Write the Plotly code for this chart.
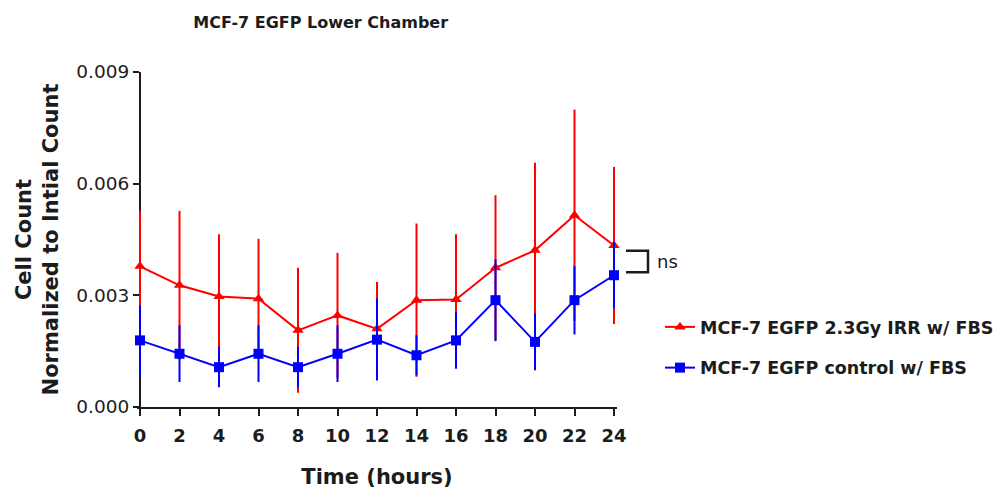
import plotly.graph_objects as go

times = [0, 2, 4, 6, 8, 10, 12, 14, 16, 18, 20, 22, 24]
irr_mean = [0.00378, 0.00327, 0.00297, 0.00291, 0.00206, 0.00246, 0.00210,
            0.00287, 0.00289, 0.00374, 0.00421, 0.00515, 0.00434]
irr_err = [0.00149, 0.00200, 0.00167, 0.00161, 0.00168, 0.00168, 0.00126,
           0.00206, 0.00175, 0.00195, 0.00235, 0.00284, 0.00211]
ctrl_mean = [0.00179, 0.00143, 0.00107, 0.00143, 0.00107, 0.00143, 0.00181,
             0.00139, 0.00179, 0.00287, 0.00175, 0.00287, 0.00354]
ctrl_err = [0.00094, 0.00076, 0.00054, 0.00076, 0.00054, 0.00076, 0.00110,
            0.00054, 0.00076, 0.00110, 0.00076, 0.00092, 0.00089]
y_ticks = [0.0, 0.003, 0.006, 0.009]
x_ticks = times
series_names = ["MCF-7 EGFP 2.3Gy IRR w/ FBS", "MCF-7 EGFP control w/ FBS"]
bracket_y = [0.00420, 0.00362]

FONT = "DejaVu Sans"
INK = "#1c1c1c"

# layout geometry
W, H = 996, 493
ML, MR, MT, MB = 137, 379, 72, 86
PAD = 0.152                      # small x padding so end error bars are not clipped
PW = W - ML - MR
x_range = [times[0] - PAD, times[-1] + PAD]
ppu = PW / (x_range[1] - x_range[0])


def paper_x(px):
    return (px - ML) / PW


fig = go.Figure()
fig.add_trace(go.Scatter(
    x=times, y=irr_mean, name=series_names[0], mode="lines+markers",
    line=dict(color="#ff0000", width=2),
    marker=dict(symbol="triangle-up", size=10, color="#ff0000"),
    error_y=dict(type="data", array=irr_err, visible=True, color="#ff0000",
                 thickness=2, width=0),
    cliponaxis=False, legendgroup="a",
))
fig.add_trace(go.Scatter(
    x=times, y=ctrl_mean, name=series_names[1], mode="lines+markers",
    line=dict(color="#0000ff", width=2),
    marker=dict(symbol="square", size=10, color="#0000ff"),
    error_y=dict(type="data", array=ctrl_err, visible=True, color="#0000ff",
                 thickness=2, width=0),
    cliponaxis=False, legendgroup="b",
))

# ns bracket
bx0, bx1 = paper_x(626), paper_x(648)
fig.add_shape(type="path", xref="paper", yref="y",
              path=f"M {bx0},{bracket_y[0]} L {bx1},{bracket_y[0]} L {bx1},{bracket_y[1]} L {bx0},{bracket_y[1]}",
              line=dict(color=INK, width=2.5))
fig.add_annotation(xref="paper", yref="y", x=paper_x(655), y=sum(bracket_y) / 2,
                   text="ns", showarrow=False, xanchor="left", yanchor="middle",
                   font=dict(family=FONT, size=18, color=INK))

fig.update_layout(
    width=W, height=H,
    margin=dict(l=ML, r=MR, t=MT, b=MB, autoexpand=False),
    paper_bgcolor="white", plot_bgcolor="white",
    title=dict(text="<b>MCF-7 EGFP Lower Chamber</b>", xref="container", yref="container",
               x=0.322, y=1 - 22 / H, xanchor="center", yanchor="middle",
               font=dict(family=FONT, size=16, color=INK)),
    showlegend=True,
    legend=dict(xref="container", yref="container", x=660 / W, y=1 - 347.5 / H,
                xanchor="left", yanchor="middle",
                font=dict(family=FONT, size=17.5, color=INK, weight="bold"),
                tracegroupgap=15, bgcolor="rgba(0,0,0,0)"),
    font=dict(family=FONT, color=INK),
)
fig.update_xaxes(
    range=x_range, tickvals=x_ticks, ticktext=[f"<b>{t}</b>" for t in x_ticks],
    showgrid=False, zeroline=False, showline=True, linecolor=INK, linewidth=2,
    ticks="outside", ticklen=7, tickwidth=2, tickcolor=INK,
    tickfont=dict(family=FONT, size=18, color=INK), ticklabelstandoff=4,
    layer="below traces", automargin=False,
    title=dict(text="<b>Time (hours)</b>", font=dict(family=FONT, size=21, color=INK), standoff=25),
)
fig.update_yaxes(
    range=[0, 0.009], tickvals=y_ticks, tickformat=".3f",
    anchor="free", position=PAD * ppu / PW,
    showgrid=False, zeroline=False, showline=True, linecolor=INK, linewidth=2,
    ticks="outside", ticklen=6, tickwidth=2, tickcolor=INK,
    tickfont=dict(family=FONT, size=18.5, color=INK),
    layer="below traces", automargin=False,
    title=dict(text="<b>Cell Count<br>Normalized to Intial Count</b>",
               font=dict(family=FONT, size=21, color=INK), standoff=11),
)

fig.write_html("out.html")
